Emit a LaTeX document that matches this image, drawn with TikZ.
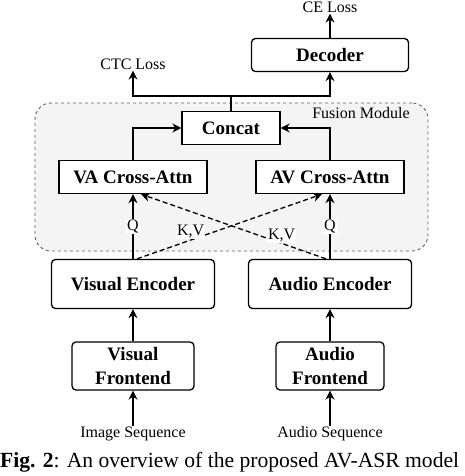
\documentclass[tikz,border=0pt]{standalone}
\usepackage{fontspec}
\setmainfont{Liberation Serif}
\usetikzlibrary{arrows.meta}

\begin{document}
\begin{tikzpicture}[x=1pt, y=-1pt,
    block/.style={draw, line width=1.3pt, rounded corners=4pt, fill=white, inner sep=0pt, align=center, font=\fontsize{19}{24}\selectfont\bfseries},
    sqblock/.style={block, rounded corners=0pt},
    lbl/.style={inner sep=1pt, font=\fontsize{16}{18}\selectfont},
    arr/.style={-{Stealth[length=9pt, width=9pt]}, line width=1.3pt},
    dasharr/.style={arr, dashed, dash pattern=on 5pt off 3pt}]
    \useasboundingbox (0,0) rectangle (464,476);

    % fusion module background
    \node[draw=gray!75!black, dashed, line width=0.9pt, rounded corners=16pt, fill=gray!9, minimum width=393pt, minimum height=148pt] (fusion) at (231.5,177) {};
    \node[lbl] (fusionlbl) at (361,113) {Fusion Module};

    \node[block, minimum width=157pt, minimum height=33pt] (decoder) at (330,55) {Decoder};
    \node[sqblock, minimum width=98pt, minimum height=33pt] (concat) at (231,128) {Concat};
    \node[sqblock, minimum width=148pt, minimum height=33pt] (va) at (133,177) {VA Cross-Attn};
    \node[sqblock, minimum width=148pt, minimum height=33pt] (av) at (330,177) {AV Cross-Attn};
    \node[block, minimum width=163pt, minimum height=49pt] (venc) at (133,284) {Visual Encoder};
    \node[block, minimum width=163pt, minimum height=49pt] (aenc) at (330,284) {Audio Encoder};
    \node[block, minimum width=122pt, minimum height=48pt] (vfront) at (133,366) {Visual\\Frontend};
    \node[block, minimum width=108pt, minimum height=48pt] (afront) at (330,366) {Audio\\Frontend};

    \node[lbl] (celoss) at (330,7) {CE Loss};
    \node[lbl] (ctcloss) at (133,64) {CTC Loss};
    \node[lbl] (imgseq) at (133,434) {Image Sequence};
    \node[lbl] (audseq) at (330,434) {Audio Sequence};

    % outputs
    \coordinate (split) at (231,96);
    \draw[line width=1.3pt] (concat.north) -- (split);
    \draw[arr] (split) -| (ctcloss.south);
    \draw[arr] (split) -| (decoder.south);
    \draw[arr] (decoder.north) -- (celoss.south);

    % into concat
    \draw[arr] (va.north) |- (concat.west);
    \draw[arr] (av.north) |- (concat.east);

    % cross attention inputs
    \draw[dasharr] ([xshift=4pt]venc.north) -- node[lbl, pos=0.29, anchor=south, fill=white] {K,V} ([xshift=-8pt]av.south);
    \draw[dasharr] ([xshift=-4pt]aenc.north) -- node[lbl, pos=0.24, anchor=south, fill=white] {K,V} ([xshift=8pt]va.south);
    \draw[arr] (venc.north) -- node[lbl, fill=white] {Q} (va.south);
    \draw[arr] (aenc.north) -- node[lbl, fill=white] {Q} (av.south);

    % encoders
    \draw[arr] (vfront.north) -- (venc.south);
    \draw[arr] (afront.north) -- (aenc.south);
    \draw[arr] (imgseq.north) -- (vfront.south);
    \draw[arr] (audseq.north) -- (afront.south);

    \node[anchor=west, inner sep=0pt, font=\fontsize{21.6}{26}\selectfont] (caption) at (0,462) {\textbf{Fig. 2}: An overview of the proposed AV-ASR model};
\end{tikzpicture}
\end{document}
